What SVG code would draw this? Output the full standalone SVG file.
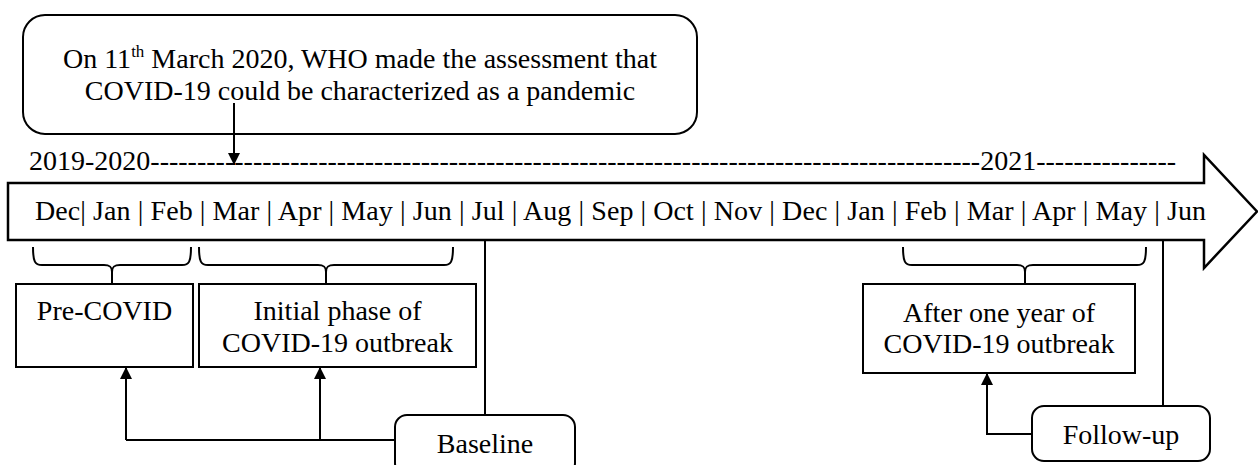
<svg xmlns="http://www.w3.org/2000/svg" width="1258" height="465" viewBox="0 0 1258 465">
<defs>
<marker id="ah" viewBox="0 0 12 12" refX="12" refY="6" markerWidth="12" markerHeight="12" markerUnits="userSpaceOnUse" orient="auto">
<path d="M0,0 L12,6 L0,12 Z" fill="#000"/>
</marker>
<style>
text{font-family:"Liberation Serif","Times New Roman",serif;font-size:28px;fill:#000}
.c{text-anchor:middle}
.box{fill:#fff;stroke:#000;stroke-width:2}
.ln{fill:none;stroke:#000;stroke-width:2}
.arr{fill:none;stroke:#000;stroke-width:2;marker-end:url(#ah)}
</style>
</defs>
<rect width="1258" height="465" fill="#fff"/>

<g id="callout">
<rect class="box" x="23" y="15" width="674" height="119" rx="22" ry="22"/>
<text class="c" x="360" y="68">On 11<tspan font-size="17" dy="-11">th</tspan><tspan dy="11"> March 2020, WHO made the assessment that</tspan></text>
<text class="c" x="360" y="100">COVID-19 could be characterized as a pandemic</text>
</g>

<g id="years">
<text x="29" y="170">2019-2020-----------------------------------------------------------------------------------------2021---------------</text>
</g>

<g id="timeline">
<polygon points="8,183 1204,183 1204,155 1257,211.5 1204,268 1204,240 8,240" fill="#fff" stroke="#000" stroke-width="2.5" stroke-linejoin="miter"/>
<text x="35" y="220" textLength="1171" lengthAdjust="spacing">Dec| Jan | Feb | Mar | Apr | May | Jun | Jul | Aug | Sep | Oct | Nov | Dec | Jan | Feb | Mar | Apr | May | Jun</text>
</g>

<g id="braces">
<path class="ln" d="M33,247 C33,262 35,265 42,265 L104,265 C110,265 112,267 112,272 L112,283 M112,272 C112,267 114,265 120,265 L182,265 C189,265 191,262 191,247"/>
<path class="ln" d="M199,247 C199,262 201,265 208,265 L318,265 C324,265 326,267 326,272 L326,283 M326,272 C326,267 328,265 334,265 L444,265 C451,265 453,262 453,247"/>
<path class="ln" d="M903,247 C903,262 905,265 912,265 L1017,265 C1023,265 1025,267 1025,272 L1025,283 M1025,272 C1025,267 1027,265 1033,265 L1137,265 C1144,265 1146,262 1146,247"/>
</g>

<g id="pre-covid">
<rect class="box" x="16" y="284" width="177" height="83"/>
<text class="c" x="104.5" y="320">Pre-COVID</text>
</g>

<g id="initial-phase">
<rect class="box" x="199" y="284" width="277" height="83"/>
<text class="c" x="337.5" y="320">Initial phase of</text>
<text class="c" x="337.5" y="352">COVID-19 outbreak</text>
</g>

<g id="after-one-year">
<rect class="box" x="863" y="284" width="272" height="89"/>
<text class="c" x="999" y="322">After one year of</text>
<text class="c" x="999" y="353">COVID-19 outbreak</text>
</g>

<g id="connectors">
<line class="arr" x1="234" y1="103" x2="234" y2="165"/>
<line class="ln" x1="485" y1="240" x2="485" y2="415"/>
<line class="ln" x1="1163" y1="240" x2="1163" y2="406"/>
<polyline class="ln" points="395,440 126,440"/>
<line class="arr" x1="126" y1="440" x2="126" y2="367"/>
<line class="arr" x1="320" y1="440" x2="320" y2="367"/>
<polyline class="arr" points="1032,434 987,434 987,373"/>
</g>

<g id="baseline">
<rect class="box" x="395" y="415" width="180" height="60" rx="12" ry="12"/>
<text class="c" x="485" y="453">Baseline</text>
</g>

<g id="follow-up">
<rect class="box" x="1032" y="406" width="178" height="55" rx="12" ry="12"/>
<text class="c" x="1121" y="444">Follow-up</text>
</g>
</svg>
